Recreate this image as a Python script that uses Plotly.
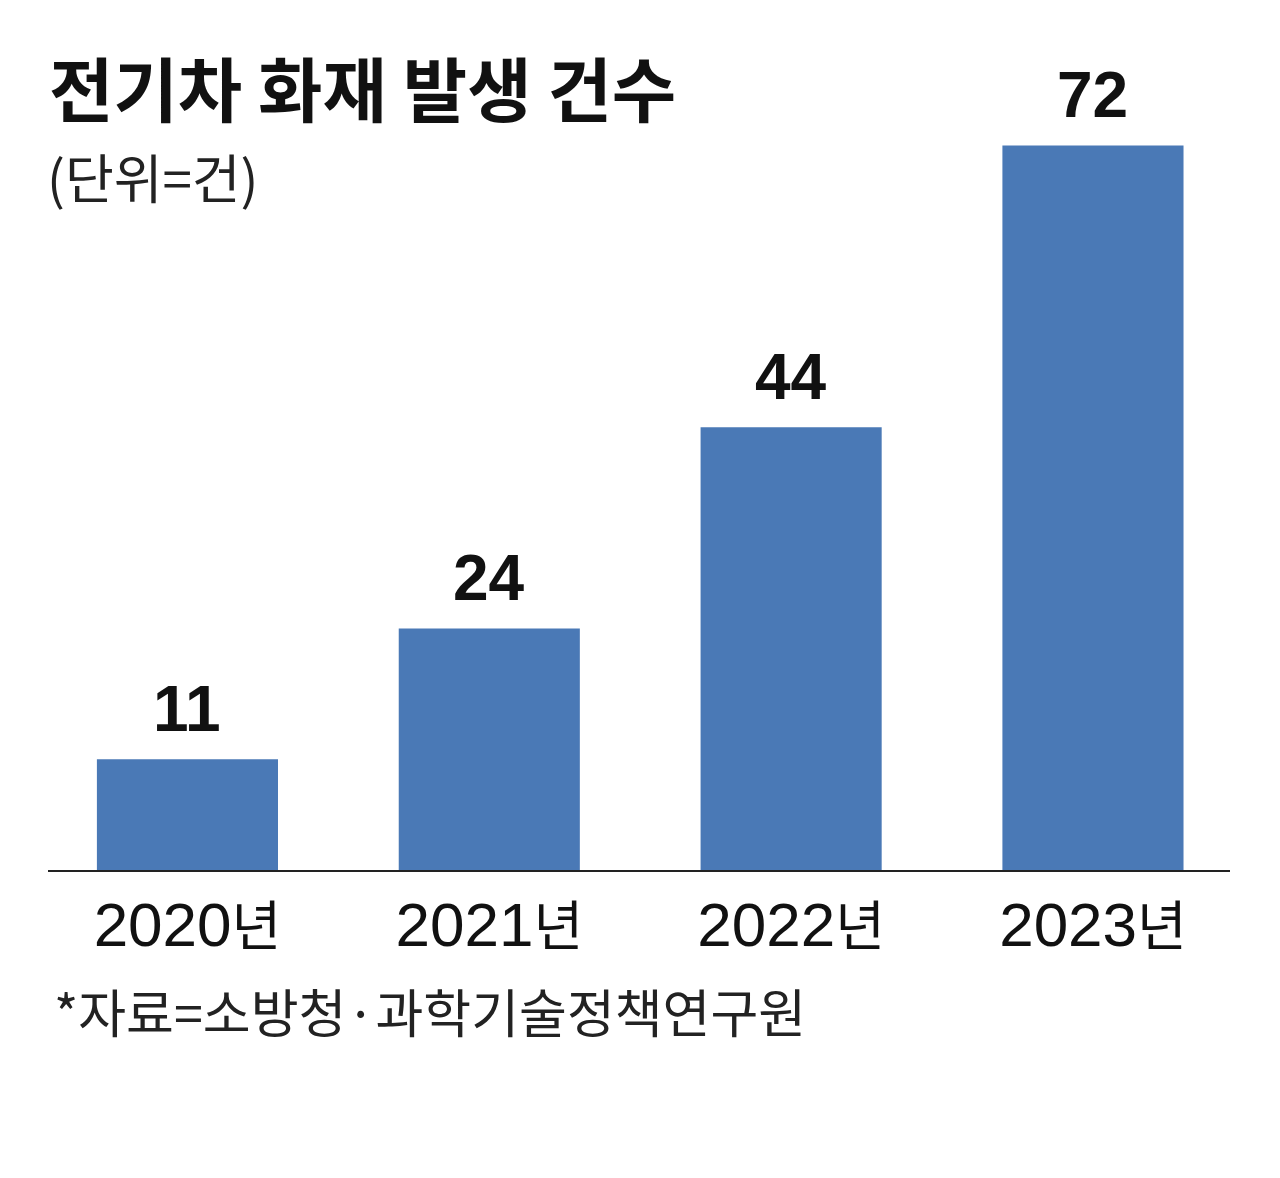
import plotly.graph_objects as go

year_nums = ["2020", "2021", "2022", "2023"]
year_suffix = "년"
counts = [11, 24, 44, 72]

title_text = "전기차 화재 발생 건수"
unit_text = "(단위=건)"
source_text = "*자료=소방청·과학기술정책연구원"

categories = [y + year_suffix for y in year_nums]
tick_text = [y + '<span style="font-size:54px;font-family:Noto Sans CJK KR">' + year_suffix + "</span>"
             for y in year_nums]

bar_color = "#4a79b6"
kfont = "Noto Sans CJK KR"
nfont = "Liberation Sans, Arial, Noto Sans CJK KR"

W, H = 1272, 1170
ML, MR, MT, MB = 40, 50, 62, 308

fig = go.Figure(
    go.Bar(
        x=categories,
        y=counts,
        width=0.6,
        marker=dict(color=bar_color, line=dict(width=0)),
        hoverinfo="skip",
    )
)

annotations = []
for c, v in zip(categories, counts):
    annotations.append(dict(
        x=c, y=v, xref="x", yref="y", text="<b>%d</b>" % v,
        showarrow=False, yanchor="bottom", yshift=12,
        font=dict(family=nfont, size=64, color="#111111"),
    ))

plot_h = H - MT - MB
plot_w = W - ML - MR


def py(page_y):
    fy = page_y - 8
    return (H - MB - fy) / plot_h


def px(page_x):
    fx = page_x - 8
    return (fx - ML) / plot_w


annotations += [
    dict(text="<b>" + title_text + "</b>", x=px(48), xref="paper", xanchor="left",
         y=py(86), yref="paper", yanchor="middle",
         font=dict(family=kfont, size=70, color="#111111"), showarrow=False,
         borderpad=0),
    dict(text=unit_text, x=px(46), xref="paper", xanchor="left",
         y=py(176), yref="paper", yanchor="middle",
         font=dict(family=kfont, size=53, color="#222222"), showarrow=False,
         borderpad=0),
    dict(text=source_text, x=px(52), xref="paper", xanchor="left",
         y=py(1010), yref="paper", yanchor="middle",
         font=dict(family=kfont, size=52, color="#222222"), showarrow=False),
]

fig.update_layout(
    width=W,
    height=H,
    margin=dict(l=ML, r=MR, t=MT, b=MB),
    paper_bgcolor="white",
    plot_bgcolor="white",
    showlegend=False,
    xaxis=dict(
        type="category",
        range=[-0.462, 3.454],
        showline=True,
        linecolor="#222222",
        linewidth=2,
        ticks="",
        showgrid=False,
        tickmode="array",
        tickvals=categories,
        ticktext=tick_text,
        tickfont=dict(family=nfont, size=62, color="#111111"),
        ticklabelstandoff=0,
    ),
    yaxis=dict(range=[0, 79.5], visible=False, showgrid=False),
    annotations=annotations,
)

fig.write_html("out.html")
